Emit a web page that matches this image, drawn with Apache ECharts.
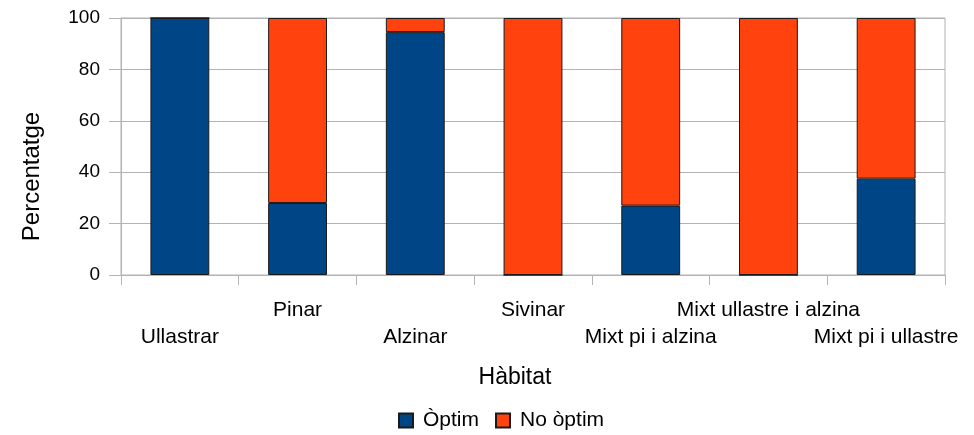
<!DOCTYPE html>
<html>
<head>
<meta charset="utf-8">
<script src="https://cdn.jsdelivr.net/npm/echarts@6/dist/echarts.min.js"></script>
<style>html,body{margin:0;padding:0;background:#fff}#c{width:974px;height:435px}</style>
</head>
<body>
<div id="c"></div>
<script>
const categories = ['Ullastrar', 'Pinar', 'Alzinar', 'Sivinar', 'Mixt pi i alzina', 'Mixt ullastre i alzina', 'Mixt pi i ullastre'];
const optim = [100, 28, 94.5, 0, 27, 0, 37.5];
const noOptim = [0, 72, 5.5, 100, 73, 100, 62.5];
const yTicks = [0, 20, 40, 60, 80, 100];

const FONT = '"Liberation Sans", Arial, sans-serif';
const chart = echarts.init(document.getElementById('c'), null, {renderer: 'canvas'});
chart.setOption({
  animation: false,
  textStyle: {fontFamily: FONT, color: '#000'},
  grid: {left: 121, right: 29, top: 18, bottom: 160, show: true, borderColor: '#b3b3b3', borderWidth: 1},
  legend: {
    bottom: 4, left: 398, itemWidth: 14, itemHeight: 14, itemGap: 16, padding: 0,
    icon: 'rect',
    textStyle: {fontFamily: FONT, fontSize: 21, color: '#000', padding: [0, 0, 0, 5]},
    data: ['Òptim', 'No òptim']
  },
  xAxis: {
    type: 'category', data: categories,
    name: 'Hàbitat', nameLocation: 'middle', nameGap: 91,
    nameTextStyle: {fontFamily: FONT, fontSize: 23, color: '#000', padding: [0, 36, 0, 0]},
    axisLine: {lineStyle: {color: '#b3b3b3'}},
    axisTick: {show: true, length: 10, alignWithLabel: false, lineStyle: {color: '#b3b3b3'}},
    axisLabel: {
      interval: 0, margin: 22, lineHeight: 27, fontSize: 21, color: '#000', fontFamily: FONT,
      hideOverlap: false,
      formatter: function (v, i) { return i % 2 === 0 ? '\n' + v : v; }
    }
  },
  yAxis: {
    type: 'value', min: 0, max: 100, interval: 20,
    name: 'Percentatge', nameLocation: 'middle', nameRotate: 90, nameGap: 77,
    nameTextStyle: {fontFamily: FONT, fontSize: 24, color: '#000', padding: [0, 60, 0, 0]},
    axisLine: {show: true, lineStyle: {color: '#b3b3b3'}},
    axisTick: {show: true, length: 12, lineStyle: {color: '#b3b3b3'}},
    axisLabel: {fontSize: 19, color: '#000', margin: 21, fontFamily: FONT,
      formatter: function (v) { return yTicks.indexOf(v) >= 0 ? String(v) : ''; }},
    splitLine: {lineStyle: {color: '#b3b3b3'}}
  },
  series: [
    {name: 'Òptim', type: 'bar', stack: 'a', data: optim, barWidth: '50%',
     itemStyle: {color: '#004586', borderColor: '#1a1a1a', borderWidth: 1}},
    {name: 'No òptim', type: 'bar', stack: 'a', data: noOptim, barWidth: '50%',
     itemStyle: {color: '#ff420e', borderColor: '#1a1a1a', borderWidth: 1}}
  ]
});
</script>
</body>
</html>
